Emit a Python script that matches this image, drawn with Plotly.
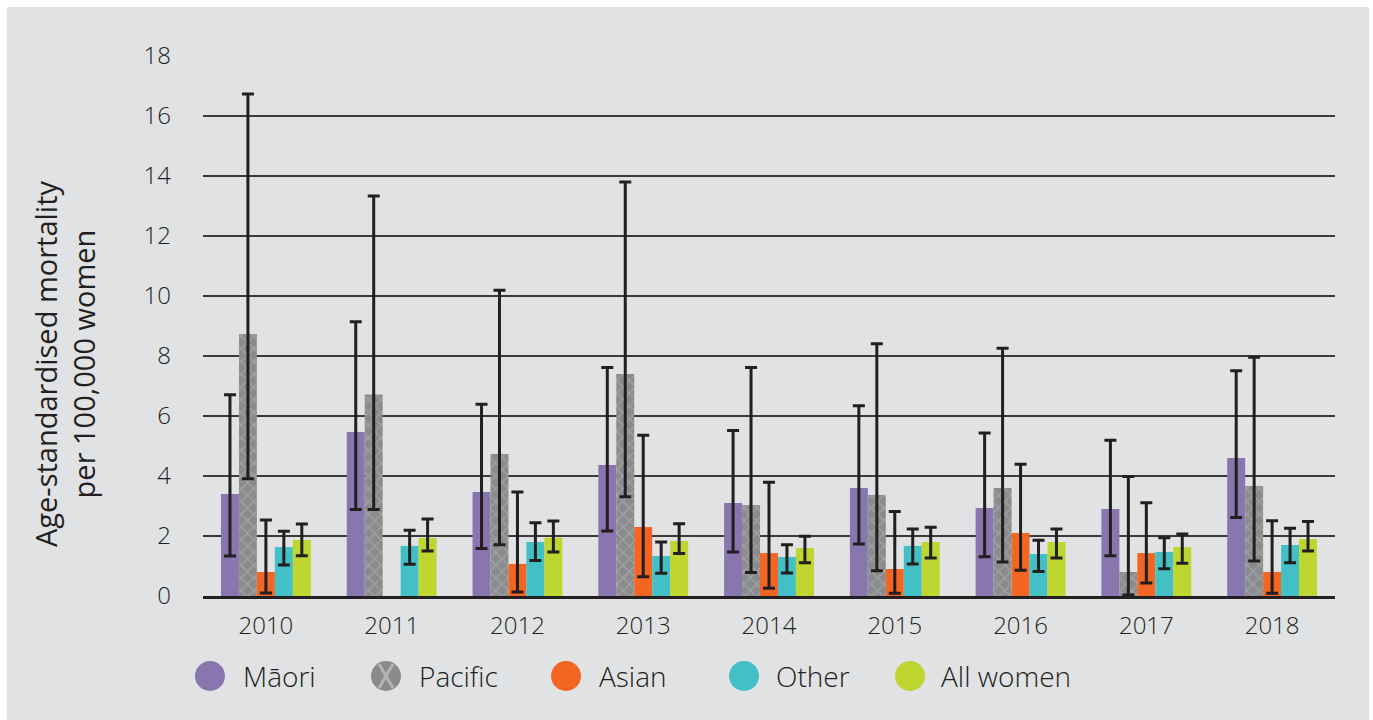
import plotly.graph_objects as go

# Age-standardised mortality per 100,000 women, with 95% confidence limits
years = ["2010", "2011", "2012", "2013", "2014", "2015", "2016", "2017", "2018"]

maori = [3.40, 5.47, 3.47, 4.37, 3.10, 3.60, 2.93, 2.90, 4.60]
maori_hi = [6.71, 9.14, 6.39, 7.62, 5.52, 6.34, 5.43, 5.19, 7.51]
maori_lo = [1.33, 2.88, 1.58, 2.17, 1.47, 1.73, 1.31, 1.34, 2.62]

pacific = [8.73, 6.72, 4.73, 7.40, 3.03, 3.37, 3.60, 0.80, 3.67]
pacific_hi = [16.73, 13.33, 10.19, 13.80, 7.62, 8.41, 8.26, 3.98, 7.96]
pacific_lo = [3.91, 2.88, 1.71, 3.31, 0.78, 0.84, 1.13, 0.03, 1.17]

asian = [0.80, None, 1.07, 2.30, 1.43, 0.90, 2.10, 1.43, 0.80]
asian_hi = [2.53, None, 3.47, 5.36, 3.79, 2.82, 4.39, 3.11, 2.51]
asian_lo = [0.10, None, 0.13, 0.64, 0.26, 0.09, 0.86, 0.43, 0.09]

other = [1.63, 1.67, 1.80, 1.33, 1.30, 1.67, 1.40, 1.47, 1.70]
other_hi = [2.16, 2.19, 2.44, 1.80, 1.71, 2.23, 1.86, 1.94, 2.26]
other_lo = [1.03, 1.06, 1.18, 0.76, 0.77, 1.07, 0.82, 0.91, 1.11]

all_women = [1.87, 1.93, 1.94, 1.83, 1.60, 1.80, 1.80, 1.63, 1.90]
all_hi = [2.40, 2.57, 2.50, 2.41, 1.99, 2.29, 2.23, 2.07, 2.48]
all_lo = [1.34, 1.50, 1.47, 1.42, 1.11, 1.27, 1.27, 1.09, 1.50]

y_ticks = [0, 2, 4, 6, 8, 10, 12, 14, 16, 18]

TEXT = "#231f20"
FONT = "Open Sans, sans-serif"
BG = "#e1e2e4"

series = [
    ("Māori", maori, maori_hi, maori_lo, "#8a76ae", None),
    ("Pacific", pacific, pacific_hi, pacific_lo, "#8a8b8d",
     dict(shape="x", fgcolor="#b4b5b7", size=9, solidity=0.3)),
    ("Asian", asian, asian_hi, asian_lo, "#f26522", None),
    ("Other", other, other_hi, other_lo, "#43c0c6", None),
    ("All women", all_women, all_hi, all_lo, "#bed62f", None),
]


def upper_err(v, hi):
    return [None if a is None else b - a for a, b in zip(v, hi)]


def lower_err(v, lo):
    return [None if a is None else a - b for a, b in zip(v, lo)]


fig = go.Figure()
for name, vals, hi, lo, color, pattern in series:
    marker = dict(color=color, line=dict(width=0))
    if pattern:
        marker["pattern"] = pattern
    fig.add_trace(go.Bar(
        x=years, y=vals, name=name, marker=marker, showlegend=False,
        error_y=dict(type="data", symmetric=False,
                     array=upper_err(vals, hi), arrayminus=lower_err(vals, lo),
                     color=TEXT, thickness=3, width=6),
    ))

# Plot area in pixels: x 203..1335, y 56..596
L, R, T, B = 203, 1335, 56, 596
W, H = R - L, B - T


def px(p):
    return (p - L) / W


def py(p):
    return (B - p) / H


shapes = [
    dict(type="rect", xref="paper", yref="paper", layer="below",
         x0=px(7), x1=px(1369), y0=py(720), y1=py(7),
         fillcolor=BG, line=dict(width=0)),
]
annotations = []

# Legend: circles with labels along the bottom
legend_pos = [(210, 241), (386, 417), (566, 597), (744, 774), (910, 939)]
cy = 676
for (name, _, _, _, color, pattern), (cx, tx) in zip(series, legend_pos):
    shapes.append(dict(type="circle", xref="paper", yref="paper",
                       x0=px(cx - 15), x1=px(cx + 15),
                       y0=py(cy + 15), y1=py(cy - 15),
                       fillcolor=color, line=dict(width=0)))
    if pattern:
        for dx in (-1, 1):
            shapes.append(dict(type="line", xref="paper", yref="paper",
                               x0=px(cx - 7 * dx), x1=px(cx + 7 * dx),
                               y0=py(cy - 12), y1=py(cy + 12),
                               line=dict(color="#b4b5b7", width=3)))
    annotations.append(dict(xref="paper", yref="paper", x=px(tx), y=py(cy),
                            xanchor="left", yanchor="middle", text=name,
                            showarrow=False,
                            font=dict(family=FONT, size=28, color=TEXT,
                                      weight=300)))

# Y-axis title
annotations.append(dict(xref="paper", yref="paper", x=px(64), y=py(364),
                        xanchor="center", yanchor="middle", textangle=-90,
                        text="Age-standardised mortality<br>per 100,000 women",
                        showarrow=False,
                        font=dict(family=FONT, size=29, color=TEXT)))

tick_font = dict(family=FONT, size=24, color=TEXT, weight=300)

fig.update_layout(
    width=1373, height=720,
    margin=dict(l=L, r=1373 - R, t=T, b=720 - B),
    paper_bgcolor="white", plot_bgcolor="rgba(0,0,0,0)",
    barmode="group", bargap=0.286, bargroupgap=0,
    showlegend=False,
    shapes=shapes, annotations=annotations,
    font=dict(family=FONT, color=TEXT),
)
fig.update_xaxes(
    showgrid=False, showline=True, linecolor=TEXT, linewidth=3,
    ticks="", tickfont=tick_font, ticklabelstandoff=6,
)
fig.update_yaxes(
    range=[0, 18], tickvals=y_ticks, showgrid=True,
    gridcolor="#3a3a3a", gridwidth=1.5, zeroline=False, showline=False,
    ticks="", tickfont=tick_font, ticklabelstandoff=31,
)

fig.write_html("out.html")
